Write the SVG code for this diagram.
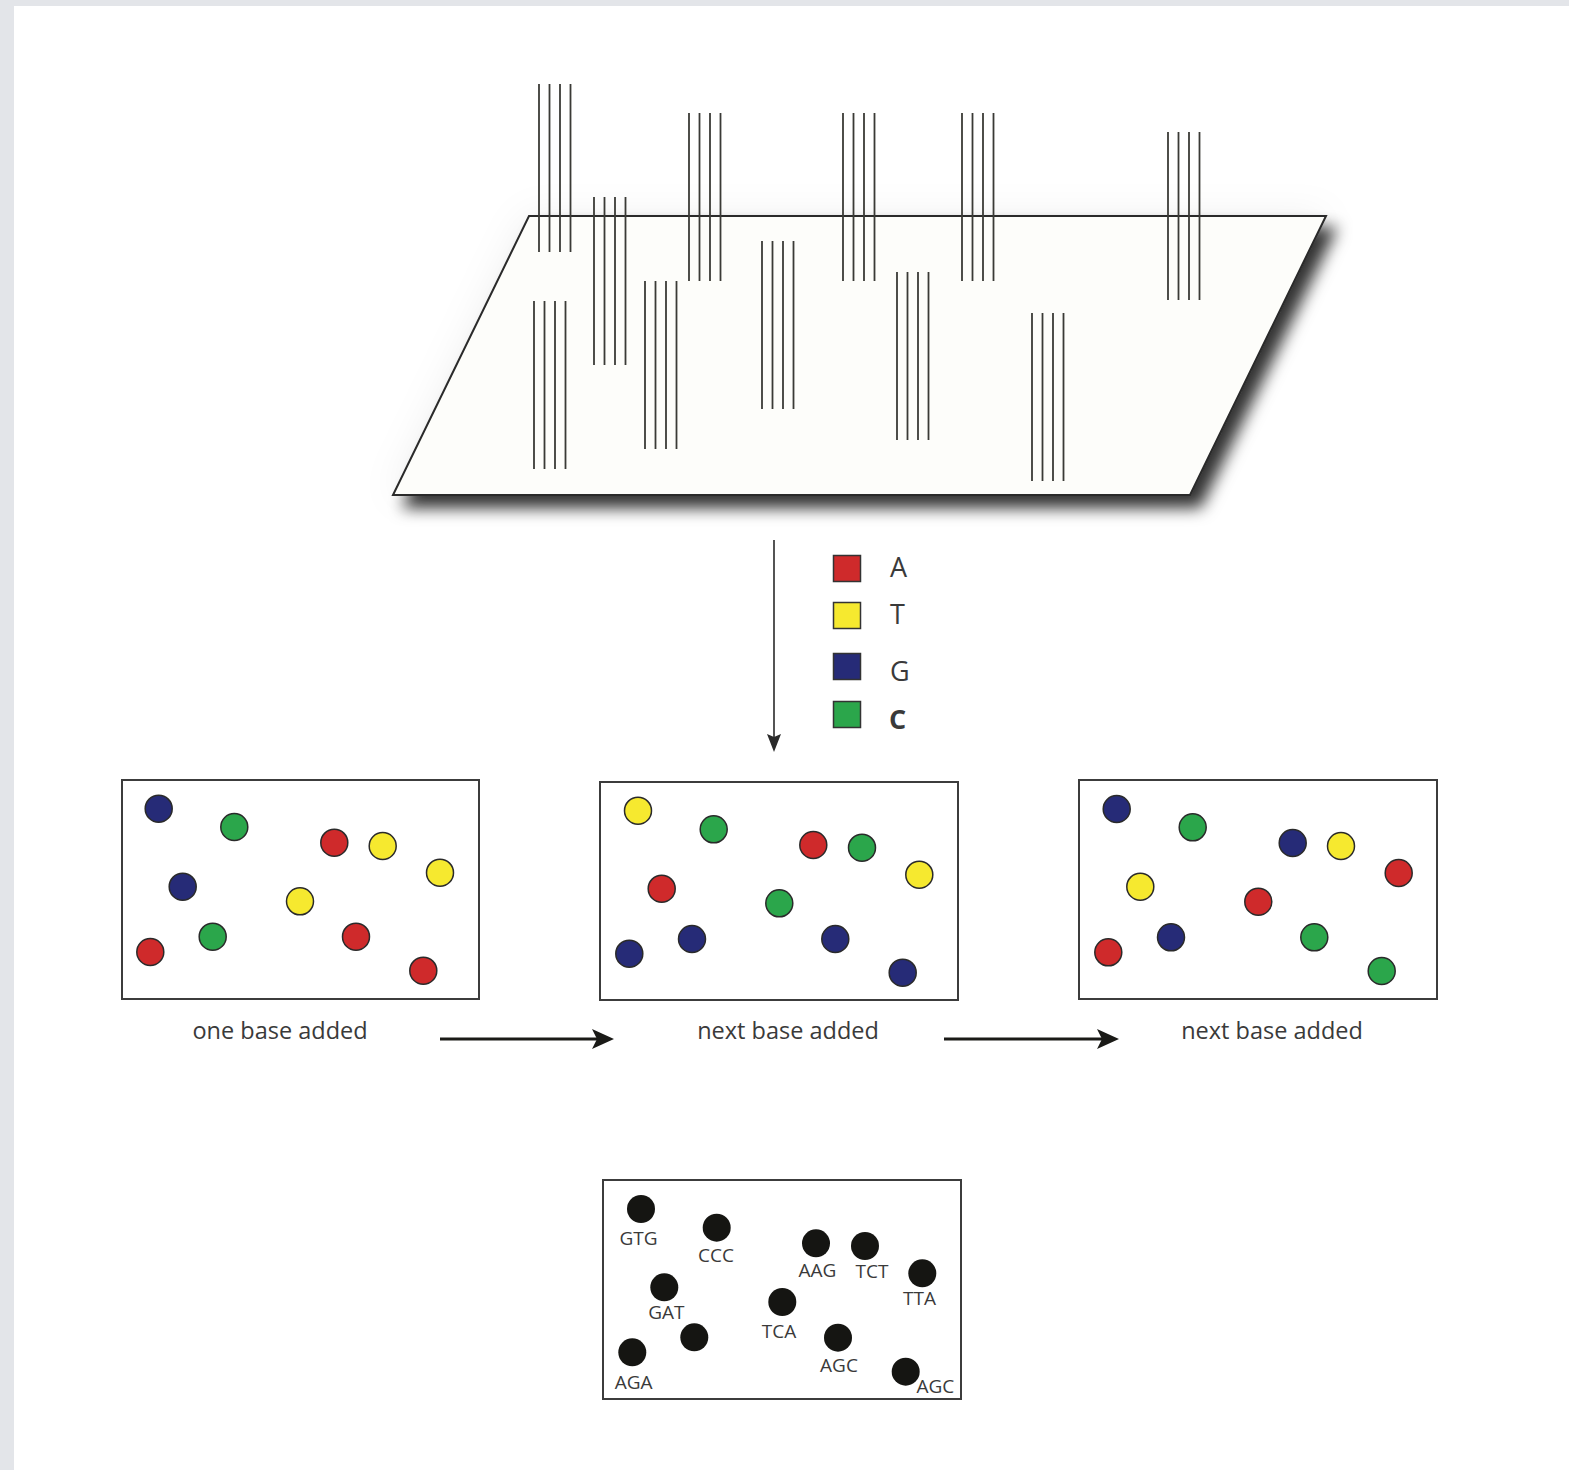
<svg xmlns="http://www.w3.org/2000/svg" xmlns:xlink="http://www.w3.org/1999/xlink" width="1569" height="1470" viewBox="0 0 1569 1470">
  <style>
    .strand line { stroke: #3a3a36; stroke-width: 1.8; }
    .frame { fill: #ffffff; stroke: #3c3c3c; stroke-width: 2; }
    .bead { stroke: #2a2a2a; stroke-width: 1.5; }
    .a { fill: #cf2a2b; }
    .t { fill: #f6e92f; }
    .g { fill: #262b77; }
    .c { fill: #2ba64b; }
    .dot { fill: #151512; }
    .lbl { font-family: "Open Sans", "Liberation Sans", sans-serif; font-size: 23.5px; fill: #3a3a3a; text-anchor: middle; }
    .key { font-family: "Open Sans", "Liberation Sans", sans-serif; font-size: 27px; fill: #3a3a3a; }
    .seq { font-family: "Open Sans", "Liberation Sans", sans-serif; font-size: 19px; fill: #3a3a3a; text-anchor: middle; }
    .flow { stroke: #1a1a17; stroke-width: 3; fill: none; }
  </style>
  <defs>
    <!-- one cluster of four parallel DNA strands -->
    <g id="cluster" class="strand">
      <line x1="0" y1="0" x2="0" y2="168"/>
      <line x1="10.5" y1="0" x2="10.5" y2="168"/>
      <line x1="21" y1="0" x2="21" y2="168"/>
      <line x1="31.5" y1="0" x2="31.5" y2="168"/>
    </g>
    <filter id="plateShadow" x="-15%" y="-30%" width="135%" height="170%">
      <feGaussianBlur in="SourceAlpha" stdDeviation="18" result="haloBlur"/>
      <feFlood flood-color="#000" flood-opacity="0.06"/>
      <feComposite in2="haloBlur" operator="in" result="halo"/>
      <feGaussianBlur in="SourceAlpha" stdDeviation="8" result="dropBlur"/>
      <feOffset in="dropBlur" dx="10" dy="12" result="dropOff"/>
      <feFlood flood-color="#000" flood-opacity="0.8"/>
      <feComposite in2="dropOff" operator="in" result="drop"/>
      <feMerge>
        <feMergeNode in="halo"/>
        <feMergeNode in="drop"/>
        <feMergeNode in="SourceGraphic"/>
      </feMerge>
    </filter>
    <marker id="headWide" markerUnits="userSpaceOnUse" markerWidth="24" markerHeight="22" refX="12" refY="10" orient="auto">
      <path d="M0,0 L22,10 L0,20 L5,10 Z" fill="#1a1a17"/>
    </marker>
    <marker id="headThin" markerUnits="userSpaceOnUse" markerWidth="20" markerHeight="16" refX="12" refY="7" orient="auto">
      <path d="M0,0 L18,7 L0,14 L3,7 Z" fill="#2a2a2a"/>
    </marker>
  </defs>

  <!-- window chrome -->
  <rect x="0" y="0" width="1569" height="1470" fill="#e3e5e9"/>
  <rect x="14" y="6" width="1555" height="1464" fill="#ffffff"/>

  <!-- flow cell with clustered strands -->
  <g id="flowcell">
    <polygon points="529,216 1326,216 1190,495 393,495" fill="#fdfdfa" stroke="#2a2a2a" stroke-width="2" filter="url(#plateShadow)"/>
    <use xlink:href="#cluster" x="539" y="84"/>
    <use xlink:href="#cluster" x="594" y="197"/>
    <use xlink:href="#cluster" x="534" y="301"/>
    <use xlink:href="#cluster" x="645" y="281"/>
    <use xlink:href="#cluster" x="689" y="113"/>
    <use xlink:href="#cluster" x="762" y="241"/>
    <use xlink:href="#cluster" x="843" y="113"/>
    <use xlink:href="#cluster" x="897" y="272"/>
    <use xlink:href="#cluster" x="962" y="113"/>
    <use xlink:href="#cluster" x="1032" y="313"/>
    <use xlink:href="#cluster" x="1168" y="132"/>
  </g>

  <!-- base colour key -->
  <g id="legend">
    <rect x="833.5" y="555.5" width="27" height="26" class="a" stroke="#333" stroke-width="1.5"/>
    <rect x="833.5" y="602.5" width="27" height="26" class="t" stroke="#333" stroke-width="1.5"/>
    <rect x="833.5" y="653.5" width="27" height="26" class="g" stroke="#333" stroke-width="1.5"/>
    <rect x="833.5" y="701.5" width="27" height="26" class="c" stroke="#333" stroke-width="1.5"/>
    <text class="key" x="890" y="577">A</text>
    <text class="key" x="890" y="624">T</text>
    <text class="key" x="890" y="681">G</text>
    <text class="key" x="889" y="729" font-weight="bold" fill="#1e2a1e">C</text>
  </g>

  <!-- cycle 1 -->
  <g id="cycle1">
    <rect class="frame" x="122" y="780" width="357" height="219"/>
    <circle class="bead g" cx="158.7" cy="808.7" r="13.5"/>
    <circle class="bead c" cx="234.3" cy="827" r="13.5"/>
    <circle class="bead a" cx="334.3" cy="842.7" r="13.5"/>
    <circle class="bead t" cx="382.7" cy="846" r="13.5"/>
    <circle class="bead t" cx="440" cy="872.7" r="13.5"/>
    <circle class="bead g" cx="182.7" cy="886.7" r="13.5"/>
    <circle class="bead t" cx="300" cy="901.3" r="13.5"/>
    <circle class="bead c" cx="212.7" cy="936.7" r="13.5"/>
    <circle class="bead a" cx="150.3" cy="952" r="13.5"/>
    <circle class="bead a" cx="356" cy="936.7" r="13.5"/>
    <circle class="bead a" cx="423.3" cy="970.7" r="13.5"/>
    <text class="lbl" x="280" y="1039">one base added</text>
  </g>

  <!-- cycle 2 -->
  <g id="cycle2">
    <rect class="frame" x="600" y="782" width="358" height="218"/>
    <circle class="bead t" cx="638" cy="810.7" r="13.5"/>
    <circle class="bead c" cx="713.7" cy="829.3" r="13.5"/>
    <circle class="bead a" cx="813.3" cy="845" r="13.5"/>
    <circle class="bead c" cx="862" cy="847.7" r="13.5"/>
    <circle class="bead t" cx="919.3" cy="874.7" r="13.5"/>
    <circle class="bead a" cx="661.7" cy="888.7" r="13.5"/>
    <circle class="bead c" cx="779.3" cy="903.3" r="13.5"/>
    <circle class="bead g" cx="692" cy="939" r="13.5"/>
    <circle class="bead g" cx="629.3" cy="953.7" r="13.5"/>
    <circle class="bead g" cx="835.3" cy="939" r="13.5"/>
    <circle class="bead g" cx="902.7" cy="972.7" r="13.5"/>
    <text class="lbl" x="788" y="1039">next base added</text>
  </g>

  <!-- cycle 3 -->
  <g id="cycle3">
    <rect class="frame" x="1079" y="780" width="358" height="219"/>
    <circle class="bead g" cx="1116.7" cy="809" r="13.5"/>
    <circle class="bead c" cx="1192.7" cy="827.3" r="13.5"/>
    <circle class="bead g" cx="1292.7" cy="843" r="13.5"/>
    <circle class="bead t" cx="1341" cy="846" r="13.5"/>
    <circle class="bead a" cx="1398.7" cy="873" r="13.5"/>
    <circle class="bead t" cx="1140.3" cy="886.7" r="13.5"/>
    <circle class="bead a" cx="1258.3" cy="901.7" r="13.5"/>
    <circle class="bead g" cx="1171" cy="937.3" r="13.5"/>
    <circle class="bead a" cx="1108.3" cy="952.3" r="13.5"/>
    <circle class="bead c" cx="1314.3" cy="937.3" r="13.5"/>
    <circle class="bead c" cx="1381.7" cy="971" r="13.5"/>
    <text class="lbl" x="1272" y="1039">next base added</text>
  </g>

  <!-- read-out of cluster sequences -->
  <g id="readout">
    <rect class="frame" x="603" y="1180" width="358" height="219"/>
    <circle class="dot" cx="641" cy="1209" r="14"/>
    <circle class="dot" cx="716.7" cy="1227.7" r="14"/>
    <circle class="dot" cx="816" cy="1243.3" r="14"/>
    <circle class="dot" cx="865" cy="1246" r="14"/>
    <circle class="dot" cx="922.3" cy="1273.3" r="14"/>
    <circle class="dot" cx="664.3" cy="1287.3" r="14"/>
    <circle class="dot" cx="782.3" cy="1302" r="14"/>
    <circle class="dot" cx="694.3" cy="1337.3" r="14"/>
    <circle class="dot" cx="632.3" cy="1352.3" r="14"/>
    <circle class="dot" cx="838" cy="1337.7" r="14"/>
    <circle class="dot" cx="905.7" cy="1371.7" r="14"/>
    <text class="seq" x="638.5" y="1245">GTG</text>
    <text class="seq" x="716" y="1261.7">CCC</text>
    <text class="seq" x="817.5" y="1276.7">AAG</text>
    <text class="seq" x="872" y="1277.5">TCT</text>
    <text class="seq" x="919.5" y="1305">TTA</text>
    <text class="seq" x="666.3" y="1319">GAT</text>
    <text class="seq" x="779" y="1338.3">TCA</text>
    <text class="seq" x="839" y="1371.7">AGC</text>
    <text class="seq" x="633.7" y="1389.3">AGA</text>
    <text class="seq" x="935.3" y="1393.3">AGC</text>
  </g>

  <!-- connectors -->
  <g id="connectors">
    <line x1="774" y1="540" x2="774" y2="746" stroke="#2a2a2a" stroke-width="1.6" marker-end="url(#headThin)"/>
    <line class="flow" x1="440" y1="1039" x2="604" y2="1039" marker-end="url(#headWide)"/>
    <line class="flow" x1="944" y1="1039" x2="1109" y2="1039" marker-end="url(#headWide)"/>
  </g>
</svg>
